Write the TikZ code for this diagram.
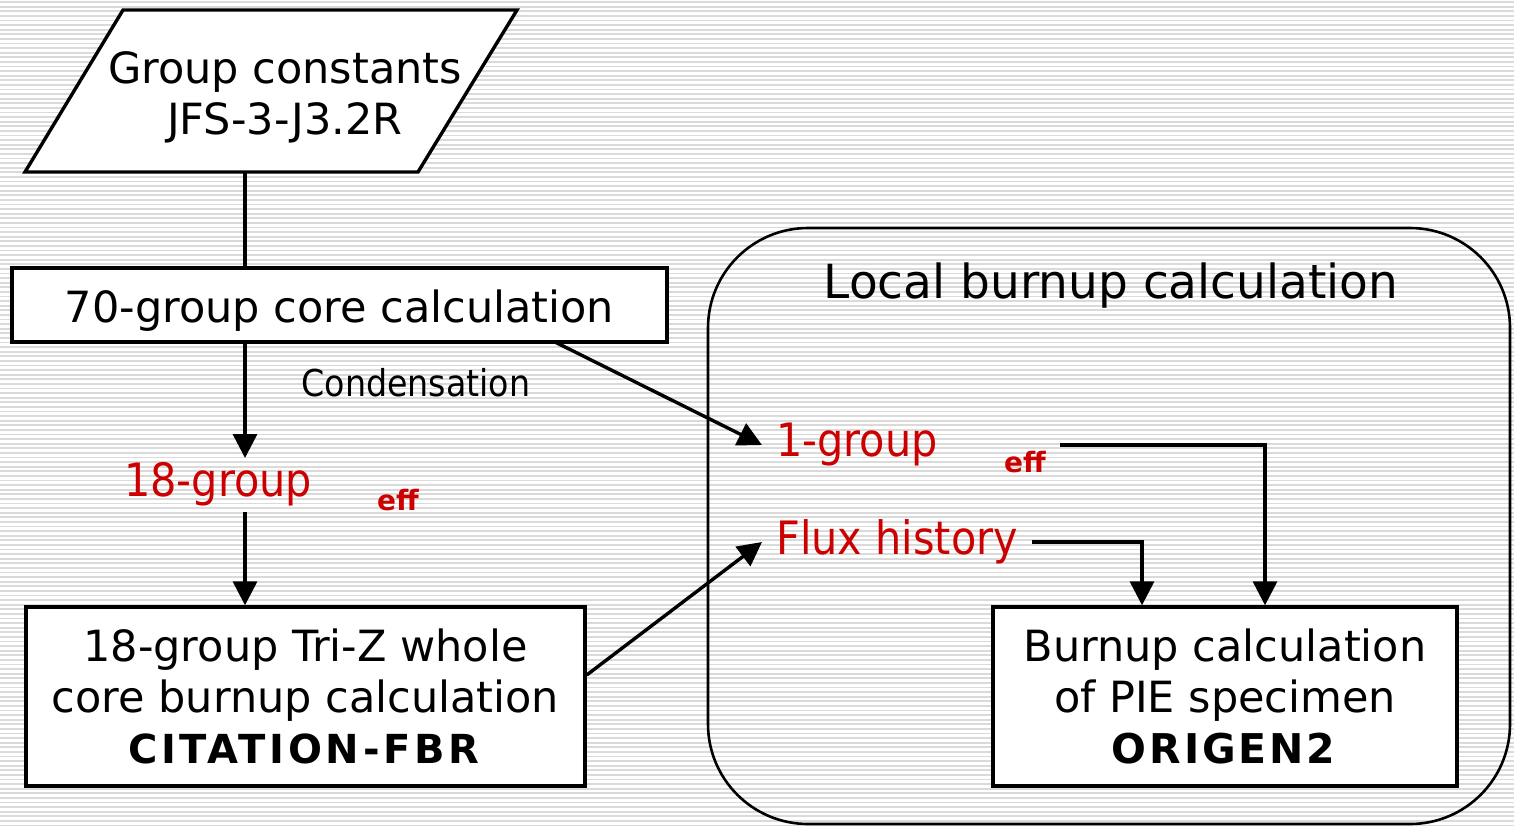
\documentclass[tikz,border=0pt]{standalone}
\usepackage{fontspec}
\setmainfont{DejaVu Sans}
\newfontfamily\condfont{DejaVu Sans Condensed}
\usetikzlibrary{arrows.meta}
\definecolor{darkred}{RGB}{204,0,0}
\definecolor{stripegray}{RGB}{218,218,218}
\tikzset{
	box/.style={draw,fill=white,line width=1.7pt,align=center,font=\fontsize{21.5}{25.5}\selectfont},
	redlab/.style={text=darkred,font=\condfont\fontsize{23}{27}\selectfont,inner sep=7pt},
	efflab/.style={text=darkred,font=\bfseries\fontsize{14}{16}\selectfont,inner sep=7pt},
	line/.style={line width=1.7pt},
	arr/.style={line width=1.7pt,-{Triangle[length=12pt,width=12pt]}}
}

\begin{document}
\begin{tikzpicture}[x=0.5pt,y=-0.5pt]
\useasboundingbox (0,0) rectangle (1514,826);
\fill[white] (0,0) rectangle (1514,826);
\foreach \y in {2,6.6,...,826}
	\draw[stripegray,line width=0.9pt] (0,\y) -- (1514,\y);

\filldraw[fill=white,line width=1.7pt] (123,10) -- (517,10) -- (418,172) -- (25,172) -- cycle;
\node[align=center,font=\fontsize{21.5}{25.5}\selectfont] (const) at (285,97) {Group constants\\JFS-3-J3.2R};
\coordinate (constbot) at (245,172);

\node[box,minimum width=327.5pt,minimum height=37pt,text height=19pt,text depth=2pt] (core) at (339.5,305) {70-group core calculation};
\node[box,minimum width=279.5pt,minimum height=89.5pt] (citation) at (305.5,696.5)
	{18-group Tri-Z whole\\core burnup calculation\\\textbf{\fontsize{20}{25.5}\selectfont\addfontfeatures{LetterSpace=9}CITATION-FBR}};

\draw[rounded corners=50pt,line width=1.3pt] (708,228) rectangle (1510,824);
\node[font=\fontsize{23.5}{27}\selectfont] (local) at (1111,286) {Local burnup calculation};
\node[box,minimum width=232pt,minimum height=89.5pt] (origen) at (1225,696.5)
	{Burnup calculation\\of PIE specimen\\\textbf{\fontsize{20.5}{25.5}\selectfont\addfontfeatures{LetterSpace=7}ORIGEN2}};

\node[font=\condfont\fontsize{18.5}{22}\selectfont] (cond) at (416,383) {Condensation};
\node[redlab] (grp18) at (218,484) {18-group};
\node[efflab] (eff18) at (398,500) {eff};
\coordinate (a18) at (245,458);
\coordinate (b18) at (245,512);

\node[redlab,anchor=west] (grp1) at (762,445) {1-group};
\node[efflab] (eff1) at (1025,462) {eff};
\node[redlab,anchor=west] (flux) at (762,542) {Flux history};
\coordinate (c1) at (555,342);

\draw[line] (constbot) -- (core.north -| constbot);
\draw[arr] (core.south -| a18) -- (a18);
\draw[arr] (b18) -- (citation.north -| b18);
\draw[arr] (c1) -- (grp1.west);
\draw[arr] ([yshift=10.75pt]citation.east) -- (flux.west);
\draw[arr] (eff1.east |- grp1.west) -| ([xshift=20pt]origen.north);
\draw[arr] (flux.east) -| ([xshift=-41.5pt]origen.north);
\end{tikzpicture}
\end{document}
